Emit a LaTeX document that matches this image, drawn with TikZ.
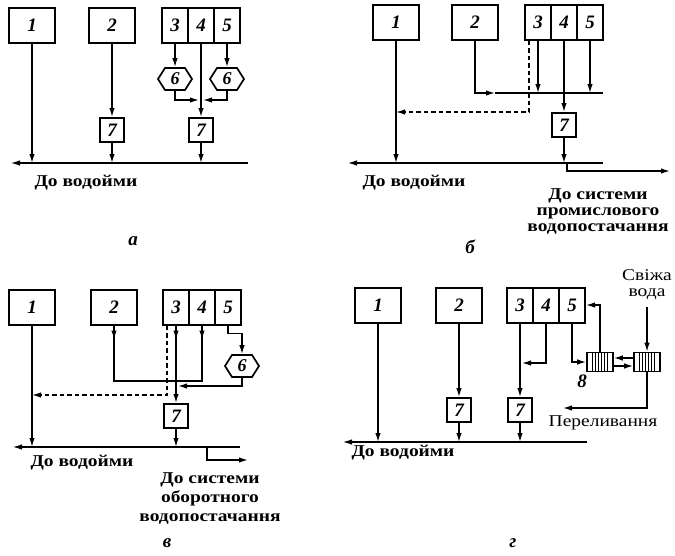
\documentclass[tikz,border=0pt]{standalone}
\usepackage{fontspec}
\setmainfont{Liberation Serif}
\newfontfamily\widefont[FakeStretch=1.18]{Liberation Serif}
\usetikzlibrary{arrows.meta, positioning, shapes.symbols}

\begin{document}
\begin{tikzpicture}[
    x=1pt, y=-1pt,
    box/.style={rectangle, draw, line width=2pt, inner sep=0pt, minimum width=46pt, minimum height=35pt, font=\fontsize{19}{19}\selectfont\bfseries\itshape},
    cell/.style={box, minimum width=26pt},
    smallbox/.style={box, minimum width=24pt, minimum height=24pt},
    hexa/.style={signal, signal to=west and east, signal pointer angle=115, draw, line width=1.7pt, inner sep=0pt, minimum width=34pt, minimum height=22pt, font=\fontsize{18}{18}\selectfont\bfseries\itshape},
    filter/.style={rectangle, draw, line width=1.6pt, minimum width=26pt, minimum height=19pt,
        path picture={\foreach \i in {-7.5,-4.5,...,7.5}
            \draw[line width=1pt] ([xshift=\i pt]path picture bounding box.south) -- ([xshift=\i pt]path picture bounding box.north);}},
    pipe/.style={line width=1.4pt},
    arrow/.style={pipe, -{Latex[length=9pt, width=5.5pt]}},
    drain/.style={line width=1.8pt, -{Latex[length=10pt, width=5.5pt]}},
    ret/.style={arrow, dash pattern=on 4.5pt off 3pt},
    txt/.style={inner sep=0pt, align=center, font=\widefont\fontsize{16.5}{16}\selectfont\bfseries},
    note/.style={inner sep=0pt, align=center, font=\widefont\fontsize{16.5}{16}\selectfont},
    tag/.style={inner sep=0pt, font=\fontsize{19}{19}\selectfont\bfseries\itshape}
]
\useasboundingbox (0,0) rectangle (675,555);

% a
\node[box] (a1) at (32,25) {1};
\node[box] (a2) at (112,25) {2};
\node[cell] (a3) at (175,25) {3};
\node[cell, right=-2pt of a3] (a4) {4};
\node[cell, right=-2pt of a4] (a5) {5};
\node[hexa] (a6l) at (175,79) {6};
\node[hexa] (a6r) at (227,79) {6};
\node[smallbox] (a7l) at (112,130) {7};
\node[smallbox] (a7r) at (201,130) {7};
\coordinate (aL) at (10,163);
\coordinate (aR) at (248,163);
\coordinate (aJ) at (201,100);

\draw[drain] (aR) -- (aL);
\draw[arrow] (a1.south) -- (a1.south |- aL);
\draw[arrow] (a2.south) -- (a7l.north);
\draw[arrow] (a7l.south) -- (a7l.south |- aL);
\draw[arrow] (a3.south) -- (a6l.north);
\draw[arrow] (a5.south) -- (a6r.north);
\draw[arrow] (a4.south) -- (a7r.north);
\draw[arrow] (a6l.south) |- ([xshift=-2pt]aJ);
\draw[arrow] (a6r.south) |- ([xshift=2pt]aJ);
\draw[arrow] (a7r.south) -- (a7r.south |- aL);

\node[txt] (aout) at (86,183) {До водойми};
\node[tag] (alab) at (133,241) {а};

% b
\node[box] (b1) at (396,22) {1};
\node[box] (b2) at (475,22) {2};
\node[cell] (b3) at (538,22) {3};
\node[cell, right=-2pt of b3] (b4) {4};
\node[cell, right=-2pt of b4] (b5) {5};
\node[smallbox] (b7) at (564,125) {7};
\coordinate (bL) at (347,163);
\coordinate (bR) at (603,163);
\coordinate (bC) at (603,93);
\coordinate (bM) at (495,93);
\coordinate (bW) at (529,112);
\coordinate (bE) at (670,171);

\draw[drain] (bR) -- (bL);
\draw[arrow] (b1.south) -- (b1.south |- bL);
\draw[ret] ([xshift=-9pt]b3.south) |- (b1.south |- bW);
\draw[arrow] (b2.south) |- (bM);
\draw[pipe] (bM) -- (bC);
\draw[arrow] (b3.south) -- (b3.south |- bC);
\draw[arrow] (b5.south) -- (b5.south |- bC);
\draw[arrow] (b4.south) -- (b7.north);
\draw[arrow] (b7.south) -- (b7.south |- bL);
\draw[arrow] ([xshift=3pt]b7.south |- bL) |- (bE);

\node[txt] (bout) at (414,183) {До водойми};
\node[txt] (bsys) at (598,212) {До системи\\промислового\\водопостачання};
\node[tag] (blab) at (470,247) {б};

% c
\node[box] (c1) at (32,307) {1};
\node[box] (c2) at (114,307) {2};
\node[cell] (c3) at (176,307) {3};
\node[cell, right=-2pt of c3] (c4) {4};
\node[cell, right=-2pt of c4] (c5) {5};
\node[hexa] (c6) at (242,366) {6};
\node[smallbox] (c7) at (176,416) {7};
\coordinate (cL) at (12,447);
\coordinate (cR) at (240,447);
\coordinate (cJ) at (202,381);
\coordinate (cK) at (178,386);
\coordinate (cD) at (167,395);
\coordinate (cE) at (248,460);

\draw[drain] (cR) -- (cL);
\draw[arrow] (c1.south) -- (c1.south |- cL);
\draw[ret] ([xshift=-9pt]c3.south) |- (c1.south |- cD);
\draw[pipe] (c2.south) |- (cJ) -- (c4.south);
\draw[arrow] (c2.south) -- ++(0,14);
\draw[arrow] (c4.south) -- ++(0,14);
\draw[arrow] (c3.south) -- ++(0,14);
\draw[arrow] (c3.south) -- (c7.north);
\draw[arrow] (c5.south) -- ++(0,8) -| (c6.north);
\draw[arrow] (c6.south) |- (cK);
\draw[arrow] (c7.south) -- (c7.south |- cL);
\draw[arrow] ([xshift=31pt]c7.south |- cL) |- (cE);

\node[txt] (cout) at (82,463) {До водойми};
\node[txt, font=\widefont\fontsize{16.5}{19}\selectfont\bfseries] (csys) at (210,499) {До системи\\оборотного\\водопостачання};
\node[tag] (clab) at (167,543) {в};

% d
\node[box] (d1) at (378,305) {1};
\node[box] (d2) at (459,305) {2};
\node[cell] (d3) at (520,305) {3};
\node[cell, right=-2pt of d3] (d4) {4};
\node[cell, right=-2pt of d4] (d5) {5};
\node[smallbox] (d7l) at (459,410) {7};
\node[smallbox] (d7r) at (520,410) {7};
\node[filter] (d8l) at (600,362) {};
\node[filter] (d8r) at (647,362) {};
\node[tag] (d8t) at (582,381) {8};
\coordinate (dL) at (342,442);
\coordinate (dR) at (587,442);
\coordinate (dJ) at (522,363);
\coordinate (dF) at (647,307);
\coordinate (dO) at (563,408);

\draw[drain] (dR) -- (dL);
\draw[arrow] (d1.south) -- (d1.south |- dL);
\draw[arrow] (d2.south) -- (d7l.north);
\draw[arrow] (d7l.south) -- (d7l.south |- dL);
\draw[arrow] (d3.south) -- (d7r.north);
\draw[arrow] (d7r.south) -- (d7r.south |- dL);
\draw[arrow] (d4.south) |- (dJ);
\draw[arrow] (d5.south) |- (d8l.west);
\draw[arrow] (d8l.north) |- (d5.east);
\draw[arrow] ([yshift=4pt]d8r.west) -- ([yshift=4pt]d8l.east);
\draw[arrow] ([yshift=-4pt]d8l.east) -- ([yshift=-4pt]d8r.west);
\draw[arrow] (dF) -- (d8r.north);
\draw[arrow] (d8r.south) |- (dO);

\node[note] (dfresh) at (647,285) {Свіжа\\вода};
\node[note] (dover) at (603,423) {Переливання};
\node[txt] (dout) at (403,453) {До водойми};
\node[tag] (dlab) at (513,543) {г};
\end{tikzpicture}
\end{document}
